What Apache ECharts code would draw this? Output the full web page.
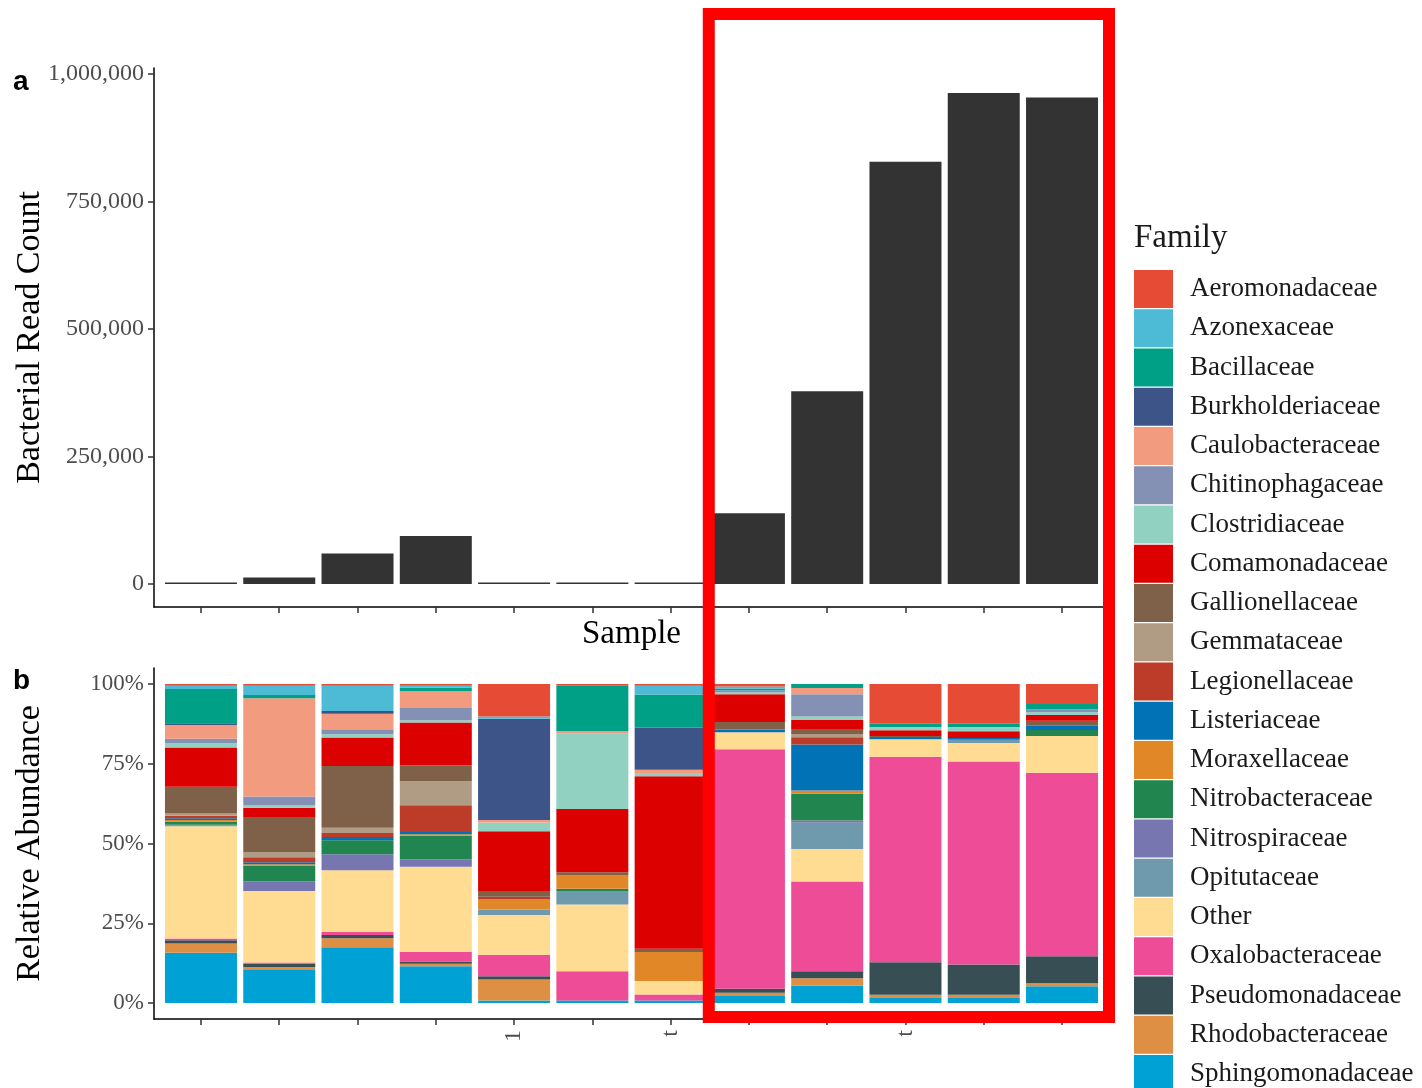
<!DOCTYPE html>
<html>
<head>
<meta charset="utf-8">
<script src="https://cdn.jsdelivr.net/npm/echarts@6/dist/echarts.min.js"></script>
<style>
  html, body { margin: 0; padding: 0; background: #ffffff; }
  #chart { width: 1422px; height: 1088px; }
</style>
</head>
<body>
<div id="chart"></div>
<script>
// ---- data ----------------------------------------------------------------
const samples = ['S01', 'S02', 'S03', 'S04', 'S05', 'S06', 'S07', 'S08', 'S09', 'S10', 'S11', 'S12'];
const sampleTickLabels = ['', '', '', '', '1', '', 't', '', '', 't', '', ''];

// total bacterial reads per sample
const readCounts = [3000, 13000, 60000, 94000, 3000, 3000, 3000, 139000, 378000, 828000, 963000, 954000];
const readTicks = [0, 250000, 500000, 750000, 1000000];
const pctTicks = [0, 25, 50, 75, 100];

// relative abundance (%) of each family, one value per sample
const Aeromonadaceae    = [0.6, 0.6, 0.6, 0.6, 10.2, 0.6, 0.6, 0.8, 0, 12.5, 12.5, 6.3];
const Azonexaceae       = [1.0, 2.9, 7.9, 0.6, 0.7, 0, 2.7, 0.6, 0, 0, 0, 0];
const Bacillaceae       = [10.7, 1.0, 0, 1.1, 0, 14.2, 10.4, 0.6, 1.3, 1.0, 1.0, 1.6];
const Burkholderiaceae  = [0.6, 0, 0.8, 0, 31.7, 0, 13.2, 0, 0, 0, 0, 0];
const Caulobacteraceae  = [4.3, 30.8, 4.9, 5.2, 0.8, 0.8, 1.0, 0, 1.9, 0, 0, 0];
const Chitinophagaceae  = [1.4, 2.8, 1.6, 3.9, 0, 0, 0, 0.6, 7.0, 0, 0, 1.0];
const Clostridiaceae    = [1.3, 0.7, 1.0, 0.7, 2.8, 23.6, 1.0, 0.6, 1.1, 1.0, 1.3, 0.8];
const Comamonadaceae    = [12.3, 2.9, 8.9, 13.4, 18.9, 19.8, 54.1, 8.7, 2.8, 1.8, 2.1, 1.8];
const Gallionellaceae   = [8.4, 11.0, 19.4, 5.0, 1.6, 1.0, 1.0, 2.4, 1.6, 0.3, 0, 1.6];
const Gemmataceae       = [0.7, 1.6, 1.6, 7.5, 0, 0, 0, 0, 1.0, 0, 0, 0];
const Legionellaceae    = [0.8, 1.6, 1.3, 8.4, 0.7, 0, 0, 0, 2.3, 0, 0, 0];
const Listeriaceae      = [0.5, 0.6, 1.0, 0.7, 0, 0, 0, 0.8, 14.4, 0.7, 0.6, 1.3];
const Moraxellaceae     = [0.5, 0.4, 0, 0.5, 3.3, 4.2, 9.1, 0, 1.0, 0, 0, 0];
const Nitrobacteraceae  = [1.0, 4.9, 4.4, 7.4, 0, 0.7, 0, 0, 8.4, 0, 0, 1.9];
const Nitrospiraceae    = [0.3, 3.1, 5.0, 2.3, 0, 0, 0, 0, 0.7, 0, 0, 0];
const Opitutaceae       = [0.2, 0, 0, 0, 1.7, 4.2, 0, 0, 8.2, 0, 1.0, 0];
const Other             = [35.2, 22.4, 19.3, 26.6, 12.5, 20.9, 4.2, 5.4, 10.2, 5.5, 5.8, 11.5];
const Oxalobacteraceae  = [0.5, 0.4, 1.0, 3.1, 6.7, 9.2, 1.9, 75.0, 28.1, 64.4, 63.6, 57.5];
const Pseudomonadaceae  = [1.0, 1.0, 1.0, 0.7, 1.0, 0, 0, 1.3, 2.2, 10.2, 9.5, 8.5];
const Rhodobacteraceae  = [2.9, 0.7, 2.8, 0.8, 6.6, 0, 0, 1.0, 2.3, 1.0, 1.0, 0.9];
const Sphingomonadaceae = [15.8, 10.6, 17.5, 11.5, 0.8, 0.8, 0.8, 2.2, 5.5, 1.6, 1.6, 5.3];

const families = [
  'Aeromonadaceae', 'Azonexaceae', 'Bacillaceae', 'Burkholderiaceae', 'Caulobacteraceae',
  'Chitinophagaceae', 'Clostridiaceae', 'Comamonadaceae', 'Gallionellaceae', 'Gemmataceae',
  'Legionellaceae', 'Listeriaceae', 'Moraxellaceae', 'Nitrobacteraceae', 'Nitrospiraceae',
  'Opitutaceae', 'Other', 'Oxalobacteraceae', 'Pseudomonadaceae', 'Rhodobacteraceae',
  'Sphingomonadaceae'
];
const familyValues = [
  Aeromonadaceae, Azonexaceae, Bacillaceae, Burkholderiaceae, Caulobacteraceae,
  Chitinophagaceae, Clostridiaceae, Comamonadaceae, Gallionellaceae, Gemmataceae,
  Legionellaceae, Listeriaceae, Moraxellaceae, Nitrobacteraceae, Nitrospiraceae,
  Opitutaceae, Other, Oxalobacteraceae, Pseudomonadaceae, Rhodobacteraceae,
  Sphingomonadaceae
];
const familyColors = [
  '#E64B35', '#4DBBD5', '#00A087', '#3C5488', '#F39B7F',
  '#8491B4', '#91D1C2', '#DC0000', '#7E6148', '#B09C85',
  '#BC3C29', '#0072B5', '#E18727', '#20854E', '#7876B1',
  '#6F99AD', '#FFDC91', '#EE4C97', '#374E55', '#DF8F44',
  '#00A1D5'
];

// ---- layout --------------------------------------------------------------
const SERIF = '"Liberation Serif", "DejaVu Serif", serif';
const SANS = '"Liberation Sans", "DejaVu Sans", sans-serif';
const PLOT_LEFT = 154, PLOT_WIDTH = 955;
const X_PAD = 0.6;                                  // discrete-axis padding, in bar units
const UNIT = PLOT_WIDTH / (samples.length - 1 + 2 * X_PAD);
const BAND_LEFT = PLOT_LEFT + (X_PAD - 0.5) * UNIT;  // category bands start here
const BAND_WIDTH = UNIT * samples.length;
const PANEL_A = { top: 68, height: 539 };
const PANEL_B = { top: 668, height: 351 };
const READ_RANGE = [-45000, 1012000];
const PCT_RANGE = [-5, 105];

const sampleIdx = samples.map((_, i) => i);
const axisLine = { onZero: false, lineStyle: { color: '#000000', width: 1.5 } };
const tickStyle = { lineStyle: { color: '#333333', width: 1.5 }, length: 6 };
const BAR_W = 72;

// visible frame axes (value scale so the outer padding can be 0.6 units)
function frameXAxis(gridIndex) {
  return {
    type: 'value', gridIndex: gridIndex, min: -X_PAD, max: samples.length - 1 + X_PAD,
    axisLine: axisLine,
    axisTick: Object.assign({ show: true, customValues: sampleIdx }, tickStyle),
    axisLabel: { show: false },
    splitLine: { show: false }
  };
}
// hidden category axes that carry the bars (and the sample tick labels)
function dataXAxis(gridIndex, withLabels) {
  return {
    type: 'category', gridIndex: gridIndex, data: samples, boundaryGap: true,
    axisLine: { show: false }, axisTick: { show: false },
    axisLabel: withLabels ? {
      show: true, interval: 0, rotate: 90, margin: 11,
      fontSize: 24, fontFamily: SERIF, color: '#4d4d4d',
      formatter: (v, i) => sampleTickLabels[i] || ''
    } : { show: false },
    splitLine: { show: false }
  };
}
function dataYAxis(gridIndex, range) {
  return {
    type: 'value', gridIndex: gridIndex, min: range[0], max: range[1],
    axisLine: { show: false }, axisTick: { show: false }, axisLabel: { show: false },
    splitLine: { show: false }
  };
}

const stackSeries = families.map((name, k) => ({
  type: 'bar', name: name, stack: 'abundance',
  xAxisIndex: 3, yAxisIndex: 3, barWidth: BAR_W,
  itemStyle: { color: familyColors[k] },
  data: familyValues[k]
})).reverse(); // first family ends up on top of each column

const panelLabels = [
  { type: 'text', left: 13, top: 68, style: { text: 'a', fontSize: 28, fontWeight: 'bold', fontFamily: SANS, fill: '#000000' } },
  { type: 'text', left: 13, top: 667, style: { text: 'b', fontSize: 28, fontWeight: 'bold', fontFamily: SANS, fill: '#000000' } }
];

function gridBox(left, width, panel) {
  return { left: left, width: width, top: panel.top, height: panel.height,
           containLabel: false, outerBoundsMode: 'none' };
}

const yTitleStyle = { fontSize: 34, fontFamily: SERIF, color: '#000000' };

const option = {
  backgroundColor: '#ffffff',
  animation: false,
  title: {
    text: 'Family', left: 1134, top: 222, padding: 0,
    textStyle: { fontSize: 33, fontWeight: 'normal', fontFamily: SERIF, color: '#1a1a1a' }
  },
  legend: {
    data: families, orient: 'vertical', left: 1134, top: 270, height: 900, padding: 0,
    icon: 'rect', itemWidth: 39, itemHeight: 38, itemGap: 1.25,
    selectedMode: false,
    textStyle: { fontSize: 27, fontFamily: SERIF, color: '#1a1a1a', padding: [0, 0, 0, 12] }
  },
  grid: [
    gridBox(PLOT_LEFT, PLOT_WIDTH, PANEL_A),
    gridBox(PLOT_LEFT, PLOT_WIDTH, PANEL_B),
    gridBox(BAND_LEFT, BAND_WIDTH, PANEL_A),
    gridBox(BAND_LEFT, BAND_WIDTH, PANEL_B)
  ],
  xAxis: [
    Object.assign(frameXAxis(0), {
      name: 'Sample', nameLocation: 'middle', nameGap: 11, nameMoveOverlap: false,
      nameTextStyle: { fontSize: 33, fontFamily: SERIF, color: '#000000', verticalAlign: 'top' }
    }),
    frameXAxis(1),
    dataXAxis(2, false),
    dataXAxis(3, true)
  ],
  yAxis: [
    {
      type: 'value', gridIndex: 0, min: READ_RANGE[0], max: READ_RANGE[1],
      axisLine: axisLine,
      axisTick: Object.assign({ show: true, customValues: readTicks }, tickStyle),
      axisLabel: {
        customValues: readTicks, margin: 10, fontSize: 24, fontFamily: SERIF, color: '#4d4d4d',
        formatter: v => Number(v).toLocaleString('en-US')
      },
      splitLine: { show: false },
      name: 'Bacterial Read Count', nameLocation: 'middle', nameGap: 107, nameRotate: 90,
      nameMoveOverlap: false, nameTextStyle: yTitleStyle
    },
    {
      type: 'value', gridIndex: 1, min: PCT_RANGE[0], max: PCT_RANGE[1],
      axisLine: axisLine,
      axisTick: Object.assign({ show: true, customValues: pctTicks }, tickStyle),
      axisLabel: {
        customValues: pctTicks, margin: 10, fontSize: 23, fontFamily: SERIF, color: '#4d4d4d',
        formatter: v => v + '%'
      },
      splitLine: { show: false },
      name: 'Relative Abundance', nameLocation: 'middle', nameGap: 107, nameRotate: 90,
      nameMoveOverlap: false, nameTextStyle: yTitleStyle
    },
    dataYAxis(2, READ_RANGE),
    dataYAxis(3, PCT_RANGE)
  ],
  series: [
    {
      type: 'bar', name: 'Bacterial reads', xAxisIndex: 2, yAxisIndex: 2, barWidth: BAR_W,
      itemStyle: { color: '#333333' },
      data: readCounts
    }
  ].concat(stackSeries),
  graphic: panelLabels
};

const chart = echarts.init(document.getElementById('chart'), null, { renderer: 'canvas' });
chart.setOption(option);

// highlight frame around the last five samples (spans both panels)
const frameLeft = chart.convertToPixel({ xAxisIndex: 1 }, 6.5);
const frameRight = chart.convertToPixel({ xAxisIndex: 1 }, samples.length - 1 + X_PAD);
chart.setOption({
  graphic: panelLabels.concat([{
    type: 'rect', z: 100, silent: true,
    shape: { x: frameLeft - 1, y: 14, width: frameRight - frameLeft + 1, height: 1003 },
    style: { fill: 'none', stroke: '#FF0000', lineWidth: 12 }
  }])
});
</script>
</body>
</html>
